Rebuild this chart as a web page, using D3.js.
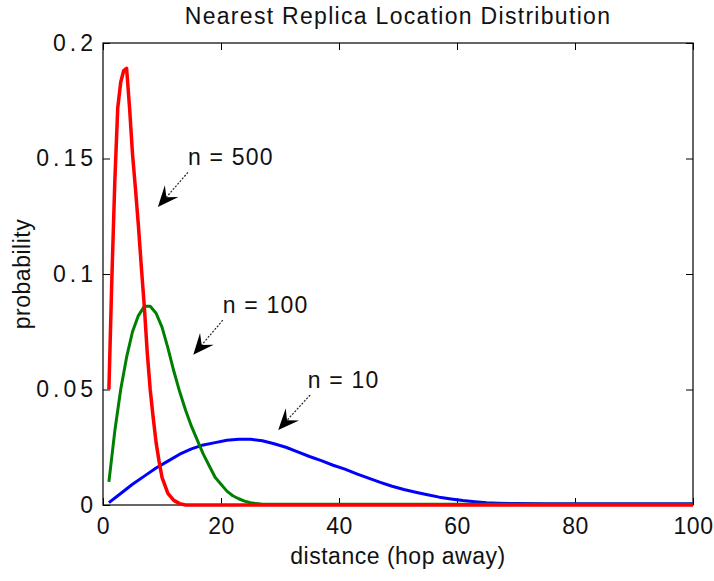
<!DOCTYPE html>
<html>
<head>
<meta charset="utf-8">
<script src="https://cdn.jsdelivr.net/npm/d3@7"></script>
<style>
  body { margin: 0; background: #fff; }
  svg text { font-family: "Liberation Sans", Arial, sans-serif; fill: #111; }
</style>
</head>
<body>
<div id="main"></div>
<script>
// distance (hop away) and probability
const redX  = [1, 1.5, 2, 2.5, 3, 3.5, 4, 4.5, 5, 5.5, 6, 6.5, 7, 7.5, 8, 8.5, 9, 9.5, 10, 11, 12, 13, 14, 100];
const redY  = [0.05, 0.098, 0.14, 0.172, 0.183, 0.188, 0.189, 0.172, 0.152, 0.137, 0.121, 0.103, 0.086, 0.066, 0.050, 0.038, 0.027, 0.019, 0.012, 0.005, 0.002, 0.0006, 0, 0];

const greenX = [1, 2, 3, 4, 5, 6, 7, 8, 9, 10, 11, 12, 13, 14, 15, 16, 17, 18, 19, 20, 21, 22, 23, 24, 25, 26, 27, 100];
const greenY = [0.010, 0.032, 0.050, 0.064, 0.075, 0.082, 0.086, 0.086, 0.083, 0.077, 0.068, 0.058, 0.049, 0.041, 0.034, 0.028, 0.022, 0.017, 0.012, 0.009, 0.006, 0.004, 0.0027, 0.0017, 0.001, 0.0006, 0.0003, 0.0003];

const blueX = [1, 3, 5, 7, 9, 11, 13, 15, 17, 19, 21, 23, 25, 27, 29, 31, 33, 35, 37, 39, 41, 43, 45, 47, 49, 51, 53, 55, 57, 59, 61, 63, 65, 67, 70, 75, 100];
const blueY = [0.001, 0.005, 0.009, 0.0125, 0.016, 0.019, 0.022, 0.0243, 0.026, 0.027, 0.028, 0.0285, 0.0285, 0.0278, 0.0265, 0.025, 0.023, 0.021, 0.0192, 0.0172, 0.0155, 0.0135, 0.0116, 0.0098, 0.0081, 0.0067, 0.0055, 0.0044, 0.0034, 0.0026, 0.0019, 0.0014, 0.001, 0.0008, 0.0006, 0.0005, 0.0005];

const xTicks = [0, 20, 40, 60, 80, 100];
const yTicks = [0, 0.05, 0.1, 0.15, 0.2];

// annotation text, label anchor and arrow start/tip in data units
const notes = [
  { text: 'n = 500', tx: 14.4, ty: 0.147, x0: 14.4, y0: 0.144, x1: 9.3, y1: 0.129 },
  { text: 'n = 100', tx: 20.3, ty: 0.083, x0: 20.3, y0: 0.080, x1: 15.3, y1: 0.065 },
  { text: 'n = 10',  tx: 34.7, ty: 0.0506, x0: 35.1, y0: 0.0476, x1: 29.7, y1: 0.0325 }
];

const width = 714, height = 581;
const mLeft = 103, mRight = 693, mTop = 43, mBottom = 505;

const x = d3.scaleLinear().domain([0, 100]).range([mLeft, mRight]);
const y = d3.scaleLinear().domain([0, 0.2]).range([mBottom, mTop]);

const svg = d3.select('div#main').append('svg')
  .attr('width', width).attr('height', height);

// box
svg.append('rect')
  .attr('x', mLeft).attr('y', mTop)
  .attr('width', mRight - mLeft).attr('height', mBottom - mTop)
  .attr('fill', '#fff').attr('stroke', '#000').attr('stroke-width', 1.2);

const tickLen = 7;
const xAxis = d3.axisBottom(x).tickValues(xTicks).tickSize(-tickLen).tickPadding(tickLen + 6).tickFormat(d3.format('d'));
const yAxis = d3.axisLeft(y).tickValues(yTicks).tickSize(-tickLen).tickPadding(6).tickFormat(d => d === 0 ? '0' : d3.format('')(d));

const gx = svg.append('g').attr('transform', `translate(0,${mBottom})`).call(xAxis);
const gy = svg.append('g').attr('transform', `translate(${mLeft},0)`).call(yAxis);
// mirrored ticks on top and right
const gxt = svg.append('g').attr('transform', `translate(0,${mTop})`)
  .call(d3.axisTop(x).tickValues(xTicks).tickSize(-tickLen).tickFormat(''));
const gyr = svg.append('g').attr('transform', `translate(${mRight},0)`)
  .call(d3.axisRight(y).tickValues(yTicks).tickSize(-tickLen).tickFormat(''));

[gx, gy, gxt, gyr].forEach(g => {
  g.select('.domain').remove();
  g.selectAll('line').attr('stroke', '#000');
  g.selectAll('text').style('font-size', '23px').attr('fill', '#111');
});
gy.selectAll('text').style('letter-spacing', '4px');
gx.selectAll('text').style('letter-spacing', '0.5px');

// curves, drawn blue first so red ends on top
const line = d3.line().x(d => x(d[0])).y(d => y(d[1]));
const series = [
  { xs: blueX, ys: blueY, color: '#0000ff', w: 3 },
  { xs: greenX, ys: greenY, color: '#008000', w: 3 },
  { xs: redX, ys: redY, color: '#ff0000', w: 3.5 }
];
series.forEach(s => {
  svg.append('path')
    .attr('d', line(s.xs.map((v, i) => [v, s.ys[i]])))
    .attr('fill', 'none')
    .attr('stroke', s.color)
    .attr('stroke-width', s.w)
    .attr('stroke-linejoin', 'round');
});

// annotations
notes.forEach(n => {
  svg.append('text')
    .attr('x', x(n.tx)).attr('y', y(n.ty))
    .style('font-size', '23px')
    .style('letter-spacing', '1.2px')
    .text(n.text);

  const px0 = x(n.x0), py0 = y(n.y0), px1 = x(n.x1), py1 = y(n.y1);
  const ang = Math.atan2(py1 - py0, px1 - px0);
  const len = 21, half = 9, notch = 13;
  const ux = Math.cos(ang), uy = Math.sin(ang);
  const nx = -uy, ny = ux;
  const bx = px1 - ux * len, by = py1 - uy * len;
  const cx = px1 - ux * notch, cy = py1 - uy * notch;

  svg.append('line')
    .attr('x1', px0).attr('y1', py0).attr('x2', cx).attr('y2', cy)
    .attr('stroke', '#222').attr('stroke-width', 1.2).attr('stroke-dasharray', '2,1.5');

  svg.append('path')
    .attr('d', `M${px1},${py1}L${bx + nx * half},${by + ny * half}L${cx},${cy}L${bx - nx * half},${by - ny * half}Z`)
    .attr('fill', '#000');
});

// title and axis labels
svg.append('text')
  .attr('x', (mLeft + mRight) / 2).attr('y', 24)
  .attr('text-anchor', 'middle')
  .style('font-size', '23px')
  .style('letter-spacing', '1.3px')
  .text('Nearest Replica Location Distribution');

svg.append('text')
  .attr('x', (mLeft + mRight) / 2).attr('y', 564)
  .attr('text-anchor', 'middle')
  .style('font-size', '23px')
  .style('letter-spacing', '0.5px')
  .text('distance (hop away)');

svg.append('text')
  .attr('transform', `translate(30,${(mTop + mBottom) / 2}) rotate(-90)`)
  .attr('text-anchor', 'middle')
  .style('font-size', '23px')
  .style('letter-spacing', '0.5px')
  .text('probability');
</script>
</body>
</html>
